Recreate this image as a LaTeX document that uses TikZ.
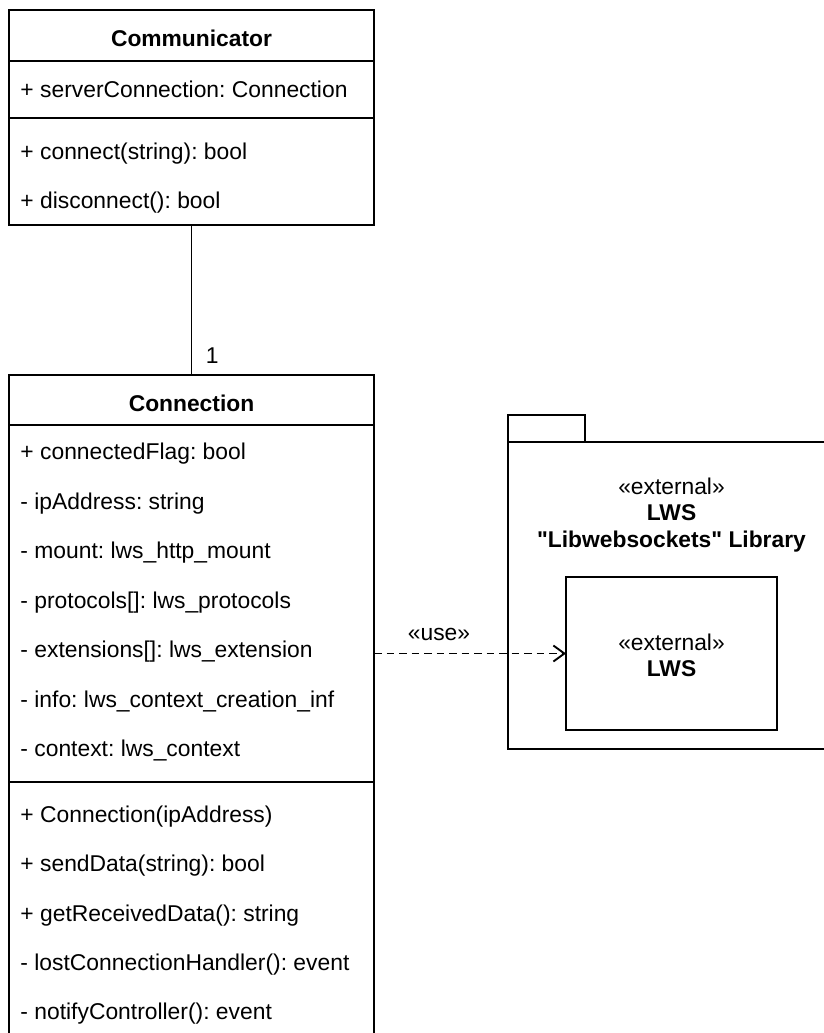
\documentclass[tikz,border=0pt]{standalone}
\usepackage{fontspec}
\setmainfont{Liberation Sans}
\newfontfamily\lsans{Liberation Sans}
\frenchspacing
\usetikzlibrary{arrows.meta}
\begin{document}
\begin{tikzpicture}[x=1pt,y=-1pt,line width=1.95pt,
  txt/.style={font=\lsans\fontsize{22.85}{27}\selectfont,inner sep=0pt,anchor=base west},
  ctxt/.style={font=\lsans\fontsize{22.8}{26.7}\selectfont,inner sep=0pt,anchor=base},
  btxt/.style={font=\lsans\fontsize{22.8}{26.7}\selectfont\bfseries,inner sep=0pt,anchor=base},
  box/.style={draw,rectangle,inner sep=0pt,outer sep=0pt,anchor=north west},
  usearrow/.style={dashed,dash pattern=on 7.5pt off 5pt,-{Straight Barb[length=11pt,width=16pt,line width=1.9pt]}}]
\useasboundingbox (0,0) rectangle (824,1033);
\clip (0,0) rectangle (824,1033);

% Communicator class
\node[box,minimum width=365pt,minimum height=215pt] (comm) at (9,10) {};
\draw ([yshift=-51pt]comm.north west) -- ([yshift=-51pt]comm.north east);
\draw ([yshift=-108pt]comm.north west) -- ([yshift=-108pt]comm.north east);
\node[btxt] (commT) at (191.5,47) {Communicator};
\node[txt] (c1) at (19.5,97) {+ serverConnection: Connection};
\node[txt] (c2) at (19.5,159.5) {+ connect(string): bool};
\node[txt] (c3) at (19.5,208.8) {+ disconnect(): bool};

% Connection class
\node[box,minimum width=365pt,minimum height=700pt] (conn) at (9,375) {};
\draw ([yshift=-50pt]conn.north west) -- ([yshift=-50pt]conn.north east);
\draw ([yshift=-407pt]conn.north west) -- ([yshift=-407pt]conn.north east);
\node[btxt] (connT) at (191.5,411) {Connection};
\node[txt] (a1) at (19.5,459.5) {+ connectedFlag: bool};
\node[txt] (a2) at (19.5,509) {- ipAddress: string};
\node[txt] (a3) at (19.5,558.5) {- mount: lws\_http\_mount};
\node[txt] (a4) at (19.5,608) {- protocols[]: lws\_protocols};
\node[txt] (a5) at (19.5,657.5) {- extensions[]: lws\_extension};
\node[txt] (a6) at (19.5,707) {- info: lws\_context\_creation\_inf};
\node[txt] (a7) at (19.5,756.5) {- context: lws\_context};
\node[txt] (m1) at (19.5,822.5) {+ Connection(ipAddress)};
\node[txt] (m2) at (19.5,871.8) {+ sendData(string): bool};
\node[txt] (m3) at (19.5,921.1) {+ getReceivedData(): string};
\node[txt] (m4) at (19.5,970.4) {- lostConnectionHandler(): event};
\node[txt] (m5) at (19.5,1019.7) {- notifyController(): event};

% association
\draw (comm.south) -- (conn.north);
\node[txt] (one) at (205,363.5) {1};

% package
\node[box,minimum width=77pt,minimum height=27pt] (pkgtab) at (508,415) {};
\node[box,minimum width=327pt,minimum height=307pt] (pkg) at (508,442) {};
\node[ctxt] (p1) at (671.5,494.3) {«external»};
\node[btxt] (p2) at (671.5,520.5) {LWS};
\node[btxt] (p3) at (671.5,547.3) {"Libwebsockets" Library};

% inner component
\node[box,minimum width=211pt,minimum height=153pt] (lws) at (566,577) {};
\node[ctxt] (l1) at (671.5,650) {«external»};
\node[btxt] (l2) at (671.5,676) {LWS};

% dependency
\draw[usearrow] (conn.east |- lws.west) -- (lws.west);
\node[ctxt] (use) at (439,640.7) {«use»};
\end{tikzpicture}
\end{document}
